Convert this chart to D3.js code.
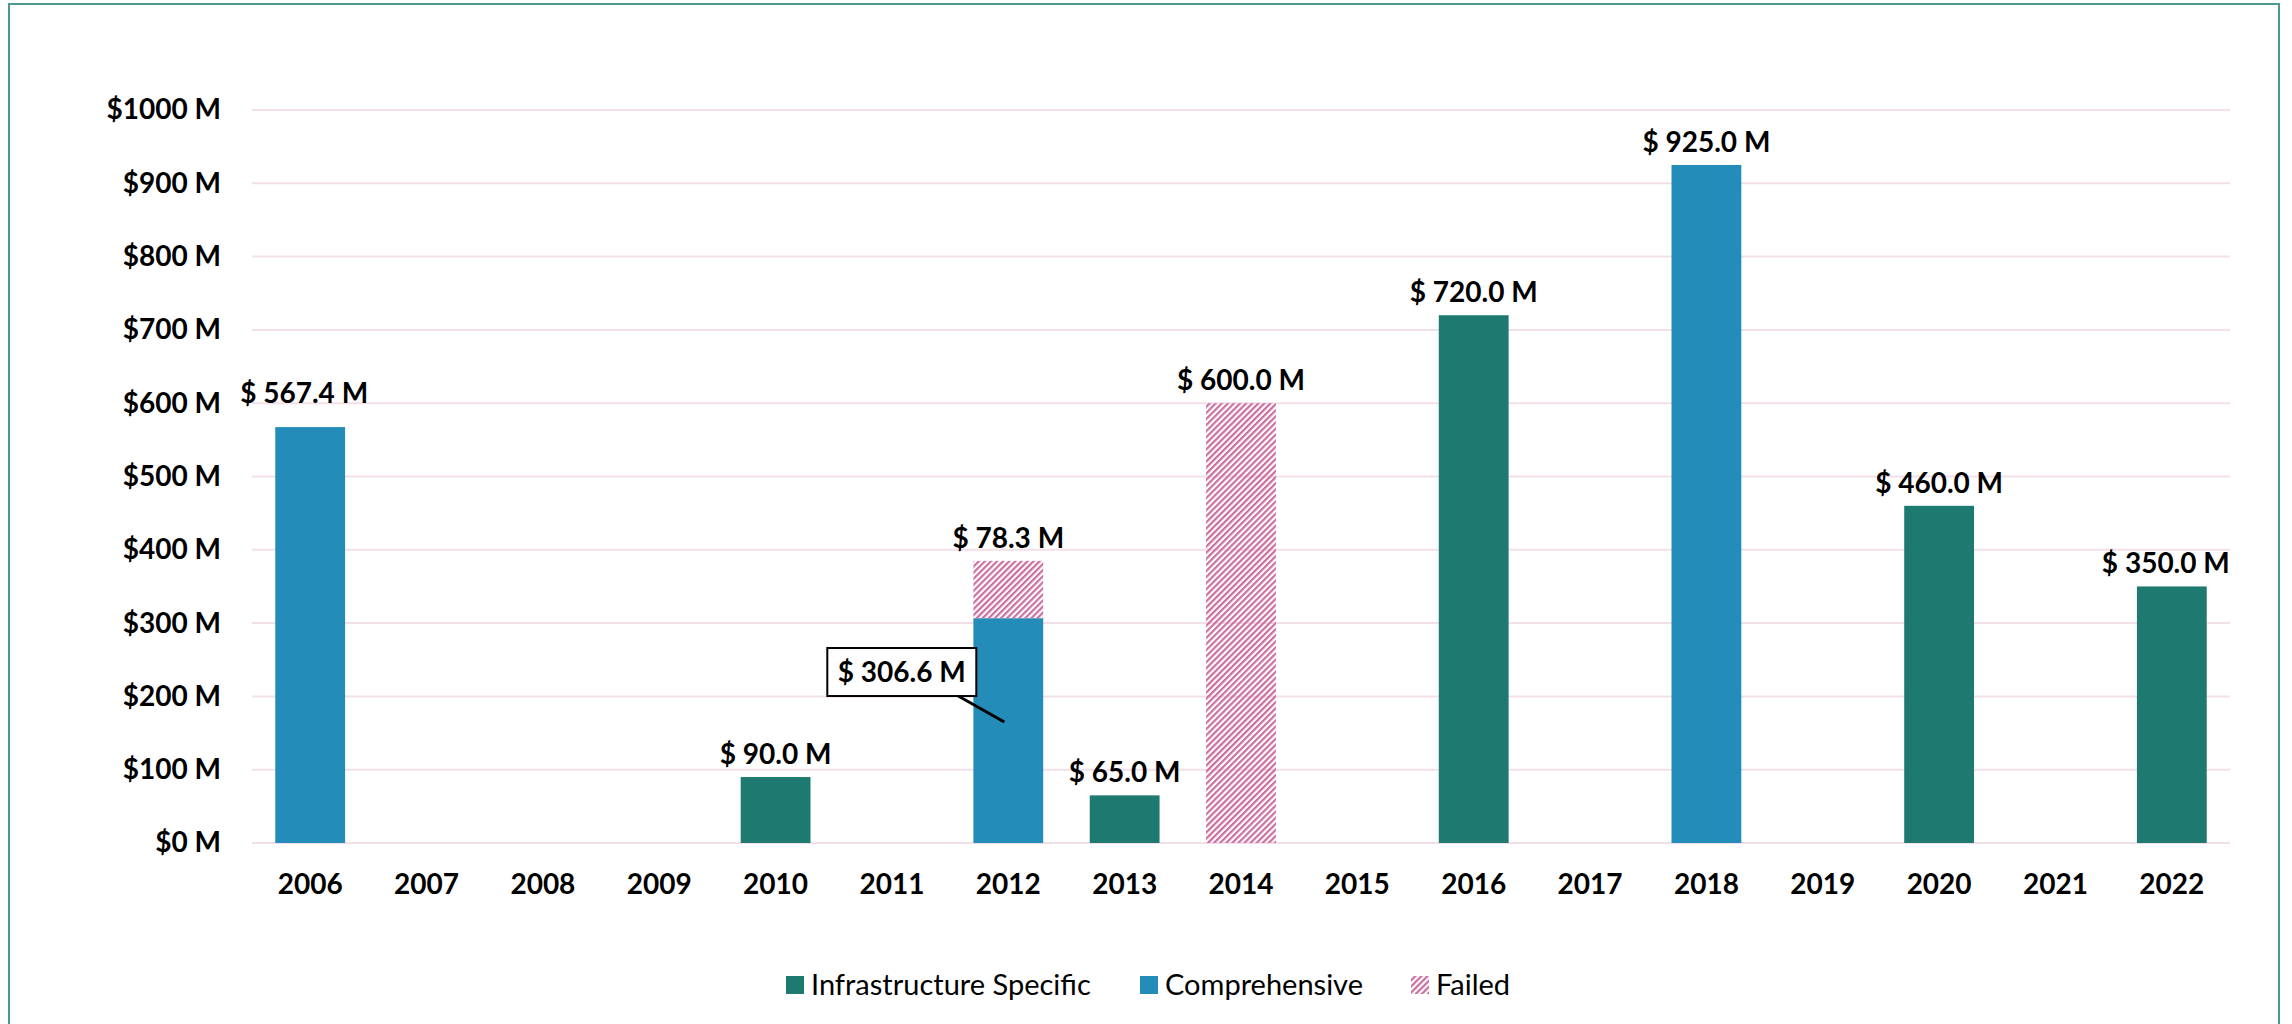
<!DOCTYPE html>
<html>
<head>
<meta charset="utf-8">
<script src="https://cdn.jsdelivr.net/npm/d3@7"></script>
<style>
  body { margin: 0; background: #fff; }
  svg { display: block; font-family: Lato, "Open Sans", sans-serif; }
</style>
</head>
<body>
<script>
// chart data
const years = ['2006','2007','2008','2009','2010','2011','2012','2013','2014','2015','2016','2017','2018','2019','2020','2021','2022']
const infraValues = [0, 0, 0, 0, 90, 0, 0, 65, 0, 0, 720, 0, 0, 0, 460, 0, 350]
const compValues  = [567.4, 0, 0, 0, 0, 0, 306.6, 0, 0, 0, 0, 0, 925, 0, 0, 0, 0]
const failedValues = [0, 0, 0, 0, 0, 0, 78.3, 0, 600, 0, 0, 0, 0, 0, 0, 0, 0]
const yTicks = [0, 100, 200, 300, 400, 500, 600, 700, 800, 900, 1000]
const seriesNames = ['Infrastructure Specific', 'Comprehensive', 'Failed']

const width = 2292, height = 1024
const margin = {top: 110, right: 62, bottom: 181, left: 252}

const colors = {infra: '#1e7a70', comp: '#248cb8', failed: '#cc6fa0'}

const rows = years.map((y, i) => ({year: y, infra: infraValues[i], comp: compValues[i], failed: failedValues[i]}))

const svg = d3.select('body').append('svg')
    .attr('width', width)
    .attr('height', height)

// outer frame (bottom edge falls off the picture)
svg.append('rect')
    .attr('x', 9).attr('y', 4)
    .attr('width', 2270).attr('height', 1040)
    .attr('fill', 'none')
    .attr('stroke', '#4b9892')
    .attr('stroke-width', 2)

// hatch for failed
const defs = svg.append('defs')
defs.append('pattern')
    .attr('id', 'hatch')
    .attr('patternUnits', 'userSpaceOnUse')
    .attr('width', 4.3).attr('height', 4.3)
    .attr('patternTransform', 'rotate(45)')
  .append('rect')
    .attr('width', 2.2).attr('height', 4.3)
    .attr('fill', colors.failed)

const xScale = d3.scaleBand()
    .domain(years)
    .range([margin.left, width - margin.right])
    .paddingInner(0.4)
    .paddingOuter(0.2)

const yScale = d3.scaleLinear()
    .domain([0, 1000])
    .range([height - margin.bottom, margin.top])

// gridlines
svg.append('g')
    .selectAll('line').data(yTicks).enter()
    .append('line')
      .attr('x1', margin.left)
      .attr('x2', width - margin.right)
      .attr('y1', d => yScale(d))
      .attr('y2', d => yScale(d))
      .attr('stroke', '#f3dfe9')
      .attr('stroke-width', 2)

// y axis labels
const yAxis = svg.append('g')
    .attr('transform', 'translate(' + (margin.left - 31) + ',0)')
    .call(d3.axisLeft(yScale).tickValues(yTicks).tickSize(0).tickPadding(0)
        .tickFormat(d => '$' + d + ' M'))
yAxis.select('.domain').remove()
yAxis.selectAll('text')
    .attr('font-size', '28px')
    .attr('font-weight', 'bold')
    .attr('font-family', 'Lato, sans-serif')
    .attr('fill', '#000')

// x axis labels
const xAxis = svg.append('g')
    .attr('transform', 'translate(0,' + (height - margin.bottom + 31) + ')')
    .call(d3.axisBottom(xScale).tickSize(0).tickPadding(0))
xAxis.select('.domain').remove()
xAxis.selectAll('text')
    .attr('font-size', '28px')
    .attr('font-weight', 'bold')
    .attr('font-family', 'Lato, sans-serif')
    .attr('fill', '#000')

// stacked bars
const stack = d3.stack().keys(['infra', 'comp', 'failed'])
const stacked = stack(rows)
const fills = {infra: colors.infra, comp: colors.comp, failed: 'url(#hatch)'}

svg.selectAll('.layer').data(stacked)
    .enter()
    .append('g')
      .attr('class', 'layer')
      .attr('fill', d => fills[d.key])
    .selectAll('rect')
    .data(d => d.filter(p => p[1] - p[0] > 0))
    .enter()
    .append('rect')
      .attr('x', d => xScale(d.data.year))
      .attr('width', xScale.bandwidth())
      .attr('y', d => yScale(d[1]))
      .attr('height', d => yScale(d[0]) - yScale(d[1]))

const fmt = v => '$ ' + v.toFixed(1) + ' M'

// labels on top of each bar (top segment value)
const topLabels = []
rows.forEach(r => {
    const total = r.infra + r.comp + r.failed
    if (total <= 0) return
    const topVal = r.failed > 0 ? r.failed : (r.comp > 0 ? r.comp : r.infra)
    topLabels.push({year: r.year, total: total, value: topVal})
})

svg.selectAll('.vlabel').data(topLabels)
    .enter()
    .append('text')
      .attr('class', 'vlabel')
      .attr('x', d => xScale(d.year) + xScale.bandwidth() / 2 + (d.year == '2006' || d.year == '2022' ? -6 : 0))
      .attr('y', d => yScale(d.total) - (d.year == '2006' ? 24 : 13))
      .attr('text-anchor', 'middle')
      .attr('font-size', '28px')
      .attr('font-weight', 'bold')
      .attr('fill', '#000')
      .text(d => fmt(d.value))

// callout for the comprehensive part of the 2012 stack
const cIdx = years.indexOf('2012')
const cx = xScale('2012') + xScale.bandwidth() / 2
const callout = svg.append('g')
callout.append('line')
    .attr('x1', cx - 50).attr('y1', yScale(200.5))
    .attr('x2', cx - 4).attr('y2', yScale(165))
    .attr('stroke', '#000')
    .attr('stroke-width', 3)
callout.append('rect')
    .attr('x', cx - 181).attr('y', yScale(266))
    .attr('width', 149).attr('height', yScale(200.5) - yScale(266))
    .attr('fill', '#fff')
    .attr('stroke', '#000')
    .attr('stroke-width', 2)
callout.append('text')
    .attr('x', cx - 106.5)
    .attr('y', (yScale(266) + yScale(200.5)) / 2 + 10)
    .attr('text-anchor', 'middle')
    .attr('font-size', '28px')
    .attr('font-weight', 'bold')
    .text(fmt(compValues[cIdx]))

// legend
const legendItems = [
    {name: seriesNames[0], fill: colors.infra, x: 786},
    {name: seriesNames[1], fill: colors.comp, x: 1140},
    {name: seriesNames[2], fill: 'url(#hatch)', x: 1411}
]
const legend = svg.selectAll('.legend').data(legendItems)
    .enter()
    .append('g')
      .attr('class', 'legend')
      .attr('transform', d => 'translate(' + d.x + ',985)')
legend.append('rect')
    .attr('x', 0).attr('y', -9)
    .attr('width', 18).attr('height', 18)
    .attr('fill', d => d.fill)
legend.append('text')
    .attr('x', 25).attr('y', 10)
    .attr('font-size', '29px')
    .attr('fill', '#000')
    .text(d => d.name)
</script>
</body>
</html>
